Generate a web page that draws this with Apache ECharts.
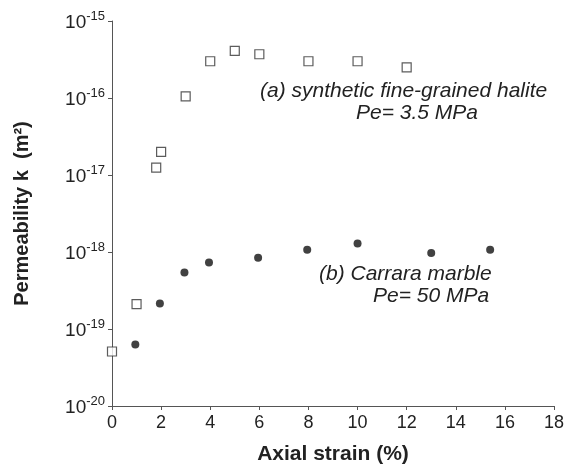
<!DOCTYPE html>
<html>
<head>
<meta charset="utf-8">
<script src="https://cdn.jsdelivr.net/npm/echarts@6/dist/echarts.min.js"></script>
<style>
  html, body { margin: 0; padding: 0; background: #fff; }
  #chart { width: 576px; height: 470px; }
</style>
</head>
<body>
<div id="chart"></div>
<script>
// halite (open squares)
var strainHalite = [0, 1, 1.8, 2, 3, 4, 5, 6, 8, 10, 12]
var permHalite = [5.1e-20, 2.1e-19, 1.25e-17, 2.0e-17, 1.05e-16, 3.0e-16, 4.1e-16, 3.7e-16, 3.0e-16, 3.0e-16, 2.5e-16]
// carrara marble (filled circles)
var strainMarble = [0.95, 1.95, 2.95, 3.95, 5.95, 7.95, 10, 13, 15.4]
var permMarble = [6.3e-20, 2.15e-19, 5.4e-19, 7.3e-19, 8.4e-19, 1.07e-18, 1.29e-18, 9.7e-19, 1.07e-18]

var font = 'Liberation Sans, Arial, Helvetica, sans-serif'
var axisColor = '#555'
var textColor = '#222'

function pairs(xs, ys) {
  return xs.map(function(x, i) { return [x, ys[i]] })
}

var myChart = echarts.init(document.getElementById('chart'))
myChart.setOption({
  animation: false,
  textStyle: { fontFamily: font },
  grid: { left: 112, right: 22, top: 21, bottom: 63 },
  xAxis: {
    type: 'value',
    min: 0,
    max: 18,
    interval: 2,
    name: 'Axial strain (%)',
    nameLocation: 'middle',
    nameGap: 38,
    nameTextStyle: { fontSize: 21, fontWeight: 'bold', color: textColor },
    axisLine: { lineStyle: { color: axisColor } },
    axisTick: { length: 4, lineStyle: { color: axisColor } },
    axisLabel: { fontSize: 18, color: textColor, margin: 8 },
    splitLine: { show: false }
  },
  yAxis: {
    type: 'log',
    logBase: 10,
    min: 1e-20,
    max: 1e-15,
    name: 'Permeability k  (m²)',
    nameLocation: 'middle',
    nameGap: 80,
    nameTextStyle: { fontSize: 20, fontWeight: 'bold', color: textColor },
    axisLine: { show: true, lineStyle: { color: axisColor } },
    axisTick: { show: true, length: 4, lineStyle: { color: axisColor } },
    minorTick: { show: false },
    splitLine: { show: false },
    axisLabel: {
      margin: 7,
      color: textColor,
      formatter: function(v) {
        var e = Math.round(Math.log10(v))
        return '{b|10}{s|' + e + '}'
      },
      rich: {
        b: { fontSize: 19, color: textColor, lineHeight: 22, verticalAlign: 'bottom' },
        s: { fontSize: 13, color: textColor, verticalAlign: 'top', padding: [0, 0, 9, 0] }
      }
    }
  },
  series: [
    {
      name: 'halite',
      type: 'scatter',
      symbol: 'rect',
      symbolSize: 9,
      itemStyle: { color: '#fff', borderColor: '#333', borderWidth: 1.2 },
      data: pairs(strainHalite, permHalite)
    },
    {
      name: 'marble',
      type: 'scatter',
      symbol: 'circle',
      symbolSize: 8,
      itemStyle: { color: '#111' },
      data: pairs(strainMarble, permMarble)
    }
  ],
  graphic: [
    {
      type: 'text', left: 260, top: 81,
      style: { text: '(a) synthetic fine-grained halite', font: 'italic 21px ' + font, fill: textColor }
    },
    {
      type: 'text', left: 356, top: 103,
      style: { text: 'Pe= 3.5 MPa', font: 'italic 21px ' + font, fill: textColor }
    },
    {
      type: 'text', left: 319, top: 264,
      style: { text: '(b) Carrara marble', font: 'italic 21px ' + font, fill: textColor }
    },
    {
      type: 'text', left: 373, top: 286,
      style: { text: 'Pe= 50 MPa', font: 'italic 21px ' + font, fill: textColor }
    }
  ]
})
</script>
</body>
</html>
